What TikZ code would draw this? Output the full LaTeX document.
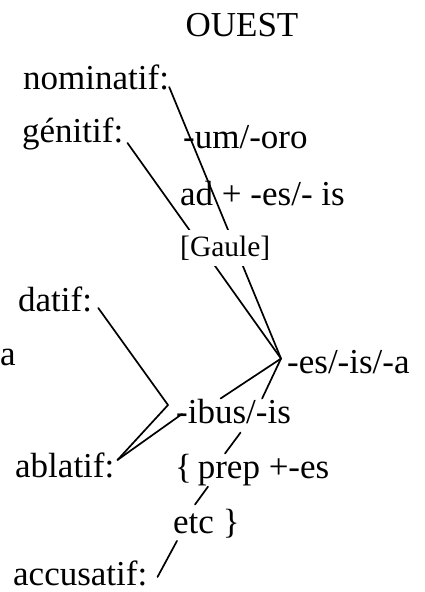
\documentclass[tikz,border=0pt]{standalone}
\usepackage{fontspec}
\usepackage{pdfrender}
\setmainfont{Liberation Serif}
\newcommand{\scan}[1]{\textpdfrender{TextRenderingMode=FillStroke,LineWidth=0.7pt}{#1}}
\pgfdeclarelayer{background}
\pgfsetlayers{background,main}
\begin{document}
\begin{tikzpicture}[x=1pt,y=-1pt,
  lab/.style={inner sep=0pt,font=\fontsize{35}{40}\selectfont},
  small/.style={inner xsep=2pt,inner ysep=6pt,font=\fontsize{29.5}{32}\selectfont,fill=white},
  conn/.style={line width=1.7pt,line cap=round}]
\useasboundingbox (0,0) rectangle (424,592);
\node[lab,anchor=base] (ouest) at (242,36) {\scan{OUEST}};
\node[lab,anchor=base west] (nom) at (23,89) {\scan{nominatif:}};
\node[lab,anchor=base west] (gen) at (22,142) {\scan{génitif:}};
\node[lab,anchor=base west] (um) at (183,148) {\scan{-um/-oro}};
\node[lab,anchor=base west] (ad) at (180,205) {\scan{ad + -es/- is}};
\node[small,anchor=base west] (gaule) at (178,256) {\scan{[Gaule]}};
\node[lab,anchor=base west] (datif) at (18,311) {\scan{datif:}};
\node[lab,anchor=base west] (a) at (0,365) {\scan{a}};
\node[lab,anchor=base west] (es) at (287,373) {\scan{-es/-is/-a}};
\node[lab,anchor=base west] (ibus) at (176,423) {\scan{-ibus/-is}};
\node[lab,anchor=base west] (abl) at (15,477) {\scan{ablatif:}};
\node[lab,anchor=base west] (prep) at (175,478) {\scan{\{\,prep +-es}};
\node[lab,anchor=base west] (etc) at (173,533) {\scan{etc \}}};
\node[lab,anchor=base west] (acc) at (13,585) {\scan{accusatif:}};
\coordinate (esj) at ([xshift=-6pt,yshift=3pt]es.west);
\coordinate (v) at ([xshift=-8pt,yshift=6pt]ibus.west);
\begin{pgfonlayer}{background}
\draw[conn] ([yshift=2pt]nom.base east) -- (esj);
\draw[conn] ([xshift=4pt,yshift=-1pt]gen.base east) -- (esj);
\draw[conn] (esj) -- ([xshift=-13pt]ibus.north);
\draw[conn] (esj) -- ([xshift=-29pt]ibus.north east);
\draw[conn] ([xshift=6pt,yshift=3pt]datif.base east) -- (v) -- ([xshift=3pt,yshift=5pt]abl.east);
\draw[conn] ([xshift=3pt,yshift=5pt]abl.east) -- ([xshift=6pt,yshift=-3pt]ibus.west);
\draw[conn] ([xshift=7pt,yshift=-9pt]ibus.south) -- ([xshift=50pt]prep.north west);
\draw[conn] ([xshift=33pt,yshift=-1pt]prep.south west) -- ([xshift=22pt,yshift=4pt]etc.north west);
\draw[conn] ([xshift=4pt,yshift=-3pt]etc.south west) -- ([xshift=10pt,yshift=8pt]acc.base east);
\end{pgfonlayer}
\end{tikzpicture}
\end{document}
